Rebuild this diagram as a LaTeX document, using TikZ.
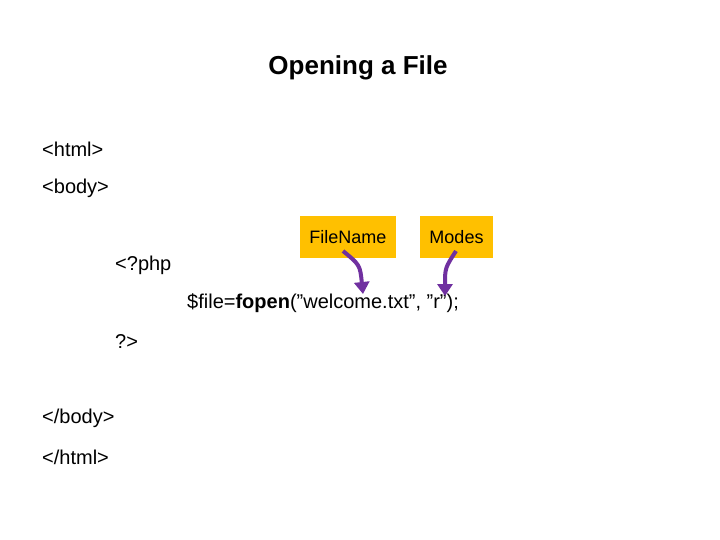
\documentclass[tikz,border=0pt]{standalone}
\usepackage{fontspec}
\setmainfont{Liberation Sans}
\usetikzlibrary{arrows.meta}
\definecolor{boxy}{HTML}{FFC000}
\definecolor{purp}{HTML}{7030A0}
\newcommand{\qq}{\symbol{34}}
\begin{document}
\begin{tikzpicture}[x=1pt,y=-1pt,
  txt/.style={anchor=west,inner sep=0pt,font=\fontsize{20}{24}\selectfont},
  lbl/.style={fill=boxy,minimum height=42pt,inner sep=0pt,font=\fontsize{18}{22}\selectfont},
  arr/.style={draw=purp,line width=4pt,-{Triangle[length=12pt,width=15pt]}}]
\useasboundingbox (0,0) rectangle (720,540);
\node[font=\bfseries\fontsize{26}{30}\selectfont] (title) at (358,68) {Opening a File};
\node[txt] (t1) at (42,149) {<html>};
\node[txt] (t2) at (42,188) {<body>};
\node[txt] (t3) at (115,265) {<?php};
\node[txt] (t4) at (187,303) {\$file=\textbf{fopen}(\qq welcome.txt\qq, \qq r\qq);};
\node[txt] (t5) at (115,342) {?>};
\node[txt] (t6) at (42,418) {</body>};
\node[txt] (t7) at (42,457) {</html>};
\node[lbl,minimum width=96pt] (fn) at (348,237) {FileName};
\node[lbl,minimum width=73pt] (md) at (456.5,237) {Modes};
\coordinate (a1) at (363,294);
\coordinate (a2) at (445,296);
\draw[arr] (343,251) .. controls (360,265) .. (a1);
\draw[arr] (456,251) .. controls (445,268) .. (a2);
\end{tikzpicture}
\end{document}
